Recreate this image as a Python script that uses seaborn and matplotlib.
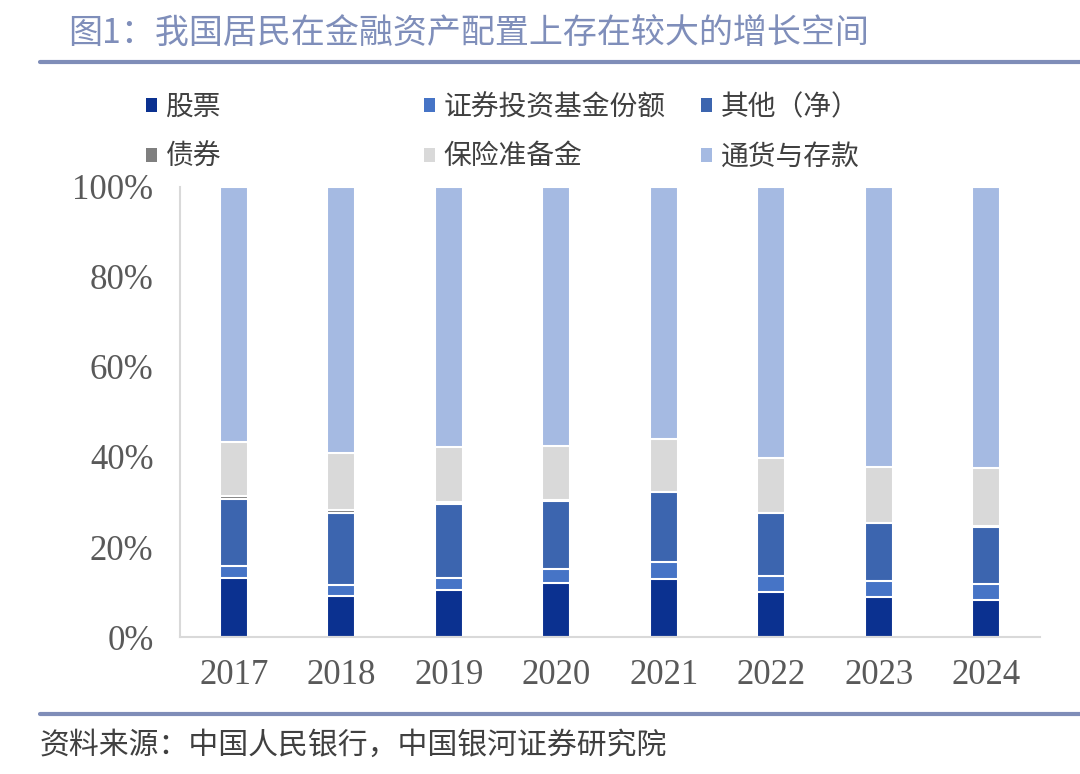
"""
Stacked share chart of household financial asset allocation, 2017-2024.
"""

import numpy as np
import pandas as pd
import matplotlib
matplotlib.use('Agg')
import matplotlib.pyplot as plt
import seaborn as sns
from matplotlib.patches import Patch
from matplotlib.lines import Line2D

sns.set_theme(style='white')
plt.rcParams['font.family'] = ['Noto Sans CJK SC', 'DejaVu Sans']

# Data (shares in %)
years = ['2017', '2018', '2019', '2020', '2021', '2022', '2023', '2024']
stocks = [13.1, 9.1, 10.5, 12.0, 12.9, 9.9, 9.0, 8.3]
funds = [2.7, 2.4, 2.6, 3.1, 3.8, 3.6, 3.5, 3.5]
other_net = [14.9, 16.1, 16.5, 15.1, 15.5, 14.0, 12.8, 12.7]
bonds = [0.6, 0.6, 0.4, 0.2, 0.1, 0.1, 0.1, 0.1]
insurance = [12.1, 12.7, 12.2, 12.0, 11.7, 12.1, 12.4, 12.9]
deposits = [56.6, 59.1, 57.8, 57.6, 56.0, 60.3, 62.2, 62.5]

series_names = ['股票', '证券投资基金份额', '其他（净）', '债券', '保险准备金', '通货与存款']
series_values = [stocks, funds, other_net, bonds, insurance, deposits]
series_colors = ['#0B3190', '#4674C6', '#3C65AF', '#7F7F7F', '#D9D9D9', '#A5BAE2']

df = pd.DataFrame({name: vals for name, vals in zip(series_names, series_values)})
df['year'] = years
cum = df[series_names].cumsum(axis=1) / 100.0

fig = plt.figure(figsize=(10.8, 7.74), dpi=100)
ax = fig.add_axes([180 / 1080, 1 - 637 / 774, 860 / 1080, 450 / 774])

# draw from the top layer down so each lower stack covers the one above
for name, color in reversed(list(zip(series_names, series_colors))):
    sns.barplot(x=df['year'], y=cum[name], color=color, width=0.26,
                edgecolor='white', linewidth=1.5, errorbar=None, ax=ax,
                saturation=1)

ax.set_ylim(0, 1)
ax.set_xlim(-0.5, len(years) - 0.5)
ax.set_yticks(np.arange(0, 1.01, 0.2))
ax.set_yticklabels([f'{int(v * 100)}%' for v in np.arange(0, 1.01, 0.2)])
ax.set_xlabel('')
ax.set_ylabel('')
for lab in ax.get_xticklabels() + ax.get_yticklabels():
    lab.set_fontfamily('Liberation Serif')
    lab.set_fontsize(25)
    lab.set_color('#595959')
ax.tick_params(axis='both', length=0)
ax.tick_params(axis='x', pad=16)
ax.tick_params(axis='y', pad=19)
for side in ['top', 'right']:
    ax.spines[side].set_visible(False)
for side in ['left', 'bottom']:
    ax.spines[side].set_color('#D9D9D9')
    ax.spines[side].set_linewidth(1.5)

# legends: three columns, two rows
col_x = [146 / 1080, 424 / 1080, 701 / 1080]
for c in range(3):
    idx = [c, c + 3]
    handles = [Patch(facecolor=series_colors[i], edgecolor='none') for i in idx]
    fig.legend(handles, [series_names[i] for i in idx], loc='upper left',
               bbox_to_anchor=(col_x[c], 1 - 92 / 774), frameon=False,
               fontsize=20, handlelength=0.4, handleheight=0.4,
               handletextpad=0.3, labelspacing=0.7, borderaxespad=0,
               borderpad=0, labelcolor='#404040')

# title and source
fig.text(68 / 1080, 1 - 33 / 774, '图1：我国居民在金融资产配置上存在较大的增长空间',
         fontsize=24.5, color='#7F8EBA', va='center', ha='left')
fig.add_artist(Line2D([40 / 1080, 1.0], [1 - 62 / 774, 1 - 62 / 774],
                      color='#7F8DB8', linewidth=3))
fig.add_artist(Line2D([40 / 1080, 1.0], [1 - 714 / 774, 1 - 714 / 774],
                      color='#7F8DB8', linewidth=3))
fig.text(40 / 1080, 1 - 745 / 774, '资料来源：中国人民银行，中国银河证券研究院',
         fontsize=21.5, color='#404040', va='center', ha='left', style='italic')

fig.savefig('out.png', dpi=100)
